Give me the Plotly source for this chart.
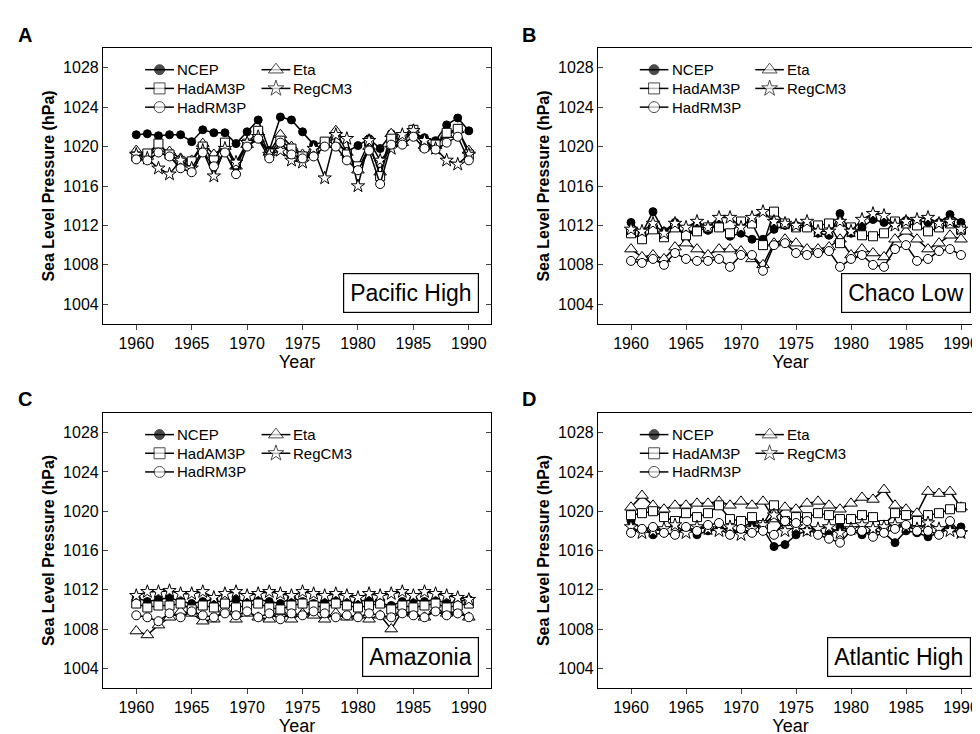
import plotly.graph_objects as go

years = list(range(1960, 1991))

# Panel A - Pacific High
a_ncep = [1021.2, 1021.3, 1021.1, 1021.2, 1021.2, 1020.5, 1021.7, 1021.4, 1021.4, 1020.3, 1021.5, 1022.7, 1019.6, 1023.0, 1022.7, 1021.5, 1020.2, 1020.5, 1020.4, 1019.5, 1020.1, 1020.8, 1019.8, 1021.3, 1021.1, 1021.4, 1020.9, 1020.6, 1022.2, 1022.9, 1021.6]
a_eta = [1019.6, 1019.0, 1019.8, 1019.5, 1018.8, 1018.6, 1020.3, 1019.2, 1020.0, 1018.0, 1020.2, 1020.8, 1019.4, 1021.2, 1020.0, 1019.2, 1019.6, 1020.2, 1021.6, 1019.4, 1017.6, 1020.0, 1017.4, 1021.3, 1020.4, 1021.7, 1020.1, 1020.1, 1021.2, 1021.7, 1019.6]
a_hadam = [1019.0, 1019.3, 1020.3, 1019.2, 1018.5, 1018.5, 1020.0, 1018.6, 1020.4, 1018.2, 1020.3, 1021.6, 1019.3, 1020.6, 1019.8, 1019.0, 1019.3, 1020.5, 1020.8, 1019.2, 1018.0, 1020.5, 1017.0, 1020.8, 1020.8, 1021.7, 1020.0, 1020.2, 1021.4, 1021.8, 1019.2]
a_hadrm = [1018.7, 1018.6, 1019.4, 1019.0, 1017.8, 1017.4, 1019.4, 1018.0, 1019.4, 1017.2, 1020.0, 1020.8, 1018.8, 1020.4, 1019.2, 1018.8, 1019.0, 1020.0, 1020.0, 1018.6, 1017.6, 1019.6, 1016.2, 1020.2, 1020.2, 1021.0, 1019.8, 1019.7, 1020.4, 1021.0, 1018.6]
a_reg = [1019.2, 1018.8, 1017.8, 1017.2, 1018.6, 1017.8, 1019.6, 1017.0, 1019.8, 1018.4, 1020.4, 1021.0, 1019.2, 1019.6, 1018.6, 1018.4, 1019.8, 1016.8, 1021.2, 1020.8, 1016.0, 1020.6, 1018.6, 1019.8, 1021.2, 1021.6, 1020.6, 1019.8, 1018.6, 1018.2, 1019.2]

# Panel B - Chaco Low
b_ncep = [1012.3, 1011.2, 1013.4, 1011.4, 1012.3, 1010.6, 1012.1, 1011.5, 1012.2, 1010.9, 1011.2, 1010.6, 1010.6, 1011.6, 1012.0, 1012.0, 1012.0, 1011.2, 1011.0, 1013.2, 1011.2, 1011.8, 1012.6, 1012.3, 1012.2, 1012.5, 1012.5, 1012.3, 1012.3, 1013.1, 1012.3]
b_eta = [1009.6, 1008.8, 1009.0, 1008.6, 1009.8, 1010.2, 1009.6, 1009.0, 1009.6, 1009.6, 1009.4, 1008.6, 1008.0, 1010.2, 1010.6, 1010.2, 1009.6, 1009.6, 1009.8, 1010.6, 1009.0, 1009.6, 1009.2, 1008.8, 1010.6, 1011.4, 1010.6, 1009.6, 1010.2, 1011.0, 1010.6]
b_hadam = [1011.2, 1010.6, 1011.6, 1010.8, 1011.8, 1011.0, 1011.4, 1011.8, 1011.8, 1011.2, 1012.4, 1012.2, 1010.0, 1013.4, 1012.2, 1011.8, 1011.8, 1012.0, 1012.2, 1010.2, 1011.8, 1011.0, 1010.9, 1011.2, 1012.4, 1012.2, 1012.0, 1011.4, 1011.8, 1012.2, 1011.6]
b_hadrm = [1008.4, 1008.2, 1008.6, 1008.0, 1009.2, 1008.6, 1008.4, 1008.4, 1008.6, 1007.8, 1009.0, 1009.0, 1007.4, 1010.0, 1010.2, 1009.2, 1009.0, 1009.2, 1009.4, 1007.8, 1008.6, 1009.0, 1008.0, 1007.8, 1009.6, 1010.0, 1008.4, 1008.6, 1009.4, 1009.6, 1009.0]
b_reg = [1011.6, 1011.4, 1012.2, 1011.2, 1012.2, 1011.8, 1012.4, 1011.8, 1012.8, 1012.8, 1011.8, 1012.8, 1013.4, 1012.4, 1012.2, 1012.0, 1012.4, 1011.4, 1011.4, 1012.4, 1011.4, 1012.6, 1013.2, 1013.0, 1012.0, 1012.4, 1012.6, 1012.8, 1012.2, 1012.4, 1011.6]

# Panel C - Amazonia
c_ncep = [1011.2, 1010.8, 1011.0, 1011.2, 1010.8, 1010.6, 1010.8, 1011.0, 1010.6, 1011.0, 1010.8, 1011.0, 1010.8, 1010.6, 1011.2, 1010.8, 1010.6, 1010.8, 1011.0, 1010.6, 1010.8, 1011.0, 1010.6, 1010.4, 1010.8, 1011.0, 1010.8, 1011.0, 1010.6, 1010.8, 1011.0]
c_eta = [1007.8, 1007.4, 1008.4, 1009.2, 1009.8, 1009.6, 1008.8, 1009.0, 1010.0, 1009.0, 1009.6, 1009.2, 1009.0, 1009.8, 1009.0, 1009.6, 1009.4, 1009.0, 1009.6, 1009.2, 1009.4, 1009.0, 1009.4, 1008.0, 1009.8, 1009.6, 1009.2, 1010.0, 1009.6, 1009.8, 1009.2]
c_hadam = [1010.6, 1010.2, 1010.4, 1010.4, 1010.6, 1010.0, 1010.4, 1010.2, 1010.6, 1010.2, 1010.4, 1010.6, 1010.2, 1010.0, 1010.4, 1010.6, 1010.4, 1010.2, 1010.6, 1010.4, 1010.2, 1010.4, 1010.6, 1010.0, 1010.4, 1010.2, 1010.4, 1010.6, 1010.2, 1010.4, 1010.6]
c_hadrm = [1009.4, 1009.2, 1008.8, 1009.6, 1009.2, 1009.8, 1009.4, 1009.2, 1009.6, 1009.4, 1009.8, 1009.2, 1009.6, 1009.0, 1009.6, 1009.4, 1009.8, 1009.6, 1009.2, 1009.4, 1009.2, 1009.6, 1009.4, 1009.2, 1009.6, 1009.4, 1009.2, 1009.8, 1009.4, 1009.6, 1009.2]
c_reg = [1011.4, 1011.8, 1011.8, 1011.9, 1011.6, 1011.6, 1011.8, 1011.2, 1011.6, 1011.8, 1011.4, 1011.6, 1011.8, 1011.6, 1011.4, 1011.8, 1011.6, 1011.4, 1011.6, 1011.4, 1011.2, 1011.6, 1011.4, 1011.6, 1011.8, 1011.4, 1011.8, 1011.6, 1011.4, 1011.2, 1011.0]

# Panel D - Atlantic High
d_ncep = [1019.0, 1018.2, 1017.6, 1017.8, 1017.6, 1018.2, 1017.6, 1018.0, 1018.2, 1017.6, 1018.4, 1018.8, 1018.2, 1016.4, 1016.6, 1017.6, 1018.0, 1017.8, 1017.6, 1018.4, 1018.0, 1017.6, 1018.0, 1017.8, 1016.8, 1018.0, 1017.8, 1017.4, 1017.8, 1018.2, 1018.4]
d_eta = [1020.4, 1021.6, 1020.6, 1020.2, 1020.6, 1020.6, 1020.8, 1020.8, 1021.0, 1020.6, 1021.0, 1020.6, 1021.0, 1019.2, 1020.4, 1020.2, 1020.8, 1021.0, 1020.6, 1020.2, 1020.8, 1021.4, 1021.2, 1022.2, 1020.6, 1020.2, 1019.8, 1022.0, 1021.8, 1022.0, 1020.4]
d_hadam = [1019.6, 1019.8, 1020.0, 1019.4, 1019.0, 1019.8, 1019.4, 1019.8, 1020.6, 1019.2, 1019.0, 1019.4, 1018.6, 1020.6, 1019.0, 1019.4, 1019.4, 1019.8, 1019.6, 1019.2, 1019.2, 1019.6, 1019.4, 1018.6, 1019.8, 1019.6, 1019.0, 1019.6, 1019.8, 1020.2, 1020.4]
d_hadrm = [1017.8, 1018.2, 1018.4, 1017.8, 1017.6, 1018.4, 1018.0, 1018.6, 1018.8, 1017.6, 1018.2, 1017.8, 1018.0, 1017.6, 1019.0, 1018.8, 1019.0, 1017.6, 1017.2, 1016.8, 1018.0, 1018.0, 1017.4, 1017.8, 1018.2, 1018.6, 1018.0, 1018.0, 1017.6, 1019.0, 1017.8]
d_reg = [1018.4, 1017.8, 1018.0, 1018.2, 1018.6, 1017.8, 1018.4, 1018.2, 1018.0, 1018.4, 1017.6, 1018.2, 1018.6, 1019.6, 1018.0, 1018.4, 1018.0, 1018.2, 1018.4, 1017.8, 1018.2, 1018.6, 1018.2, 1018.4, 1018.6, 1018.4, 1018.2, 1018.8, 1018.2, 1018.0, 1017.8]

panels = [
    ("A", "Pacific High", [a_ncep, a_eta, a_hadam, a_reg, a_hadrm]),
    ("B", "Chaco Low", [b_ncep, b_eta, b_hadam, b_reg, b_hadrm]),
    ("C", "Amazonia", [c_ncep, c_eta, c_hadam, c_reg, c_hadrm]),
    ("D", "Atlantic High", [d_ncep, d_eta, d_hadam, d_reg, d_hadrm]),
]
names = ["NCEP", "Eta", "HadAM3P", "RegCM3", "HadRM3P"]
symbols = ["circle", "triangle-up", "square", "star", "circle"]
sizes = [8, 11, 9, 10, 9]
leg_pos = [(1960.8, 1027.8), (1971.3, 1027.8), (1960.8, 1025.9), (1971.3, 1025.9), (1960.8, 1024.0)]

# pixel boxes of the four plot areas
W, H = 980, 734
xdom = [(95 / W, 483 / W), (590 / W, 975 / W)]
ydom = [(1 - 316 / H, 1 - 40 / H), (1 - 680 / H, 1 - 405 / H)]

fig = go.Figure()
for i, (letter, region, series) in enumerate(panels):
    n = i + 1
    xa, ya = f"x{n if n > 1 else ''}", f"y{n if n > 1 else ''}"
    for k, ys in enumerate(series):
        mk = dict(symbol=symbols[k], color="black" if k == 0 else "white",
                  line=dict(color="black", width=1))
        fig.add_trace(go.Scatter(x=years, y=ys, mode="lines+markers", showlegend=False, xaxis=xa, yaxis=ya,
                                 line=dict(color="black", width=1.5), marker=dict(size=sizes[k], **mk)))
        lx, ly = leg_pos[k]
        fig.add_trace(go.Scatter(x=[lx, lx + 1.3, lx + 2.6], y=[ly] * 3, mode="lines+markers", showlegend=False,
                                 hoverinfo="skip", xaxis=xa, yaxis=ya, line=dict(color="black", width=1.5),
                                 marker=dict(size=[0, sizes[k] + 2, 0], **mk)))
        fig.add_annotation(x=lx + 2.7, y=ly, xref=xa, yref=ya, text=names[k], showarrow=False,
                           xanchor="left", font=dict(size=15, color="black"))
    fig.add_annotation(x=1990.9, y=1003.1, xref=xa, yref=ya, text=region, showarrow=False,
                       xanchor="right", yanchor="bottom", font=dict(size=23, color="black"),
                       bordercolor="black", borderwidth=1.2, borderpad=6, bgcolor="white")
    col, row = i % 2, i // 2
    common = dict(showline=True, linecolor="black", linewidth=1.2, showgrid=False, zeroline=False,
                  ticklen=5, tickfont=dict(size=16, color="black"))
    fig.layout[f"xaxis{n if n > 1 else ''}"] = dict(
        domain=xdom[col], anchor=ya, range=[1957, 1992], tickvals=list(range(1960, 1991, 5)),
        title=dict(text="Year", font=dict(size=18, color="black"), standoff=0),
        mirror=True, ticks="outside", **common)
    fig.layout[f"yaxis{n if n > 1 else ''}"] = dict(
        domain=ydom[row], anchor=xa, range=[1002, 1030], tickvals=list(range(1004, 1029, 4)),
        title=dict(text="<b>Sea Level Pressure (hPa)</b>", font=dict(size=16, color="black"), standoff=4),
        mirror="allticks", ticks="inside", **common)

for t, px, py in zip(["A", "B", "C", "D"], [8, 512, 8, 512], [14, 14, 378, 378]):
    fig.add_annotation(x=px / W, y=1 - py / H, xref="paper", yref="paper", text=f"<b>{t}</b>",
                       showarrow=False, xanchor="left", yanchor="top", font=dict(size=20, color="black"))

fig.update_layout(width=W, height=H, plot_bgcolor="white", paper_bgcolor="white",
                  font=dict(family="Arial, Liberation Sans, sans-serif", color="black"),
                  margin=dict(l=0, r=0, t=0, b=0))
fig.write_html("out.html")
